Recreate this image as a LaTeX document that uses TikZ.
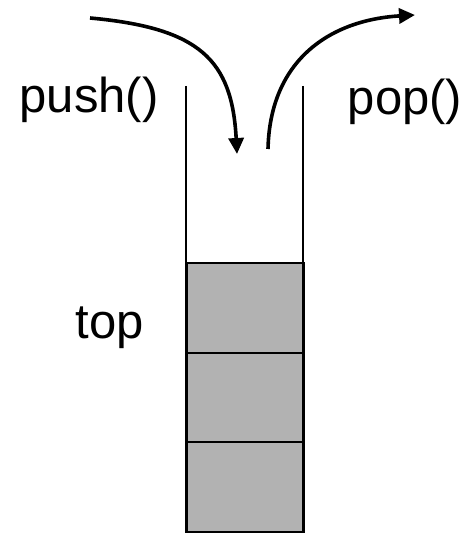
\documentclass[tikz,border=0pt]{standalone}
\usepackage{fontspec}
\setmainfont{Liberation Sans}
\usetikzlibrary{arrows.meta}
\begin{document}
\begin{tikzpicture}[x=1pt,y=-1pt,
    every node/.style={font=\fontsize{49}{58}\selectfont},
    move/.style={line width=3.6pt, -{Triangle[length=16pt,width=15pt]}}]

                \def \n {3}
                \def \wl {186} % left wall
                \def \wr {303} % right wall
                \def \htop {86}
                \def \hbot {532.5}
                \def \cell {89.5}

                \useasboundingbox (0,0) rectangle (475,534);

                \foreach \s in {1,...,\n}
                {
                    \node[draw, line width=2pt, fill=gray!60, inner sep=0, minimum width=117pt, minimum height=\cell pt, anchor=south west] at (\wl, {\hbot-(\s-1)*\cell}) (S\s) {};
                }

                \coordinate (LT) at (\wl,\htop);
                \coordinate (LB) at (\wl,\hbot);
                \coordinate (RT) at (\wr,\htop);
                \coordinate (RB) at (\wr,\hbot);
                \draw[line width=1.6pt] (LT) -- (LB);
                \draw[line width=1.6pt] (RT) -- (RB);

                \node[anchor=base] at (89,113) (push) {push()};
                \node[anchor=base] at (405,115) (pop) {pop()};
                \node[anchor=base] at (110,338) (top) {top};

                \coordinate (pushA) at (90,18);
                \coordinate (pushB) at (237,154);
                \coordinate (popA) at (268,149);
                \coordinate (popB) at (415,15);
                \draw[move] (pushA) .. controls (200,28) and (232,60) .. (pushB);
                \draw[move] (popA) .. controls (270,60) and (330,20) .. (popB);

            \end{tikzpicture}
\end{document}
